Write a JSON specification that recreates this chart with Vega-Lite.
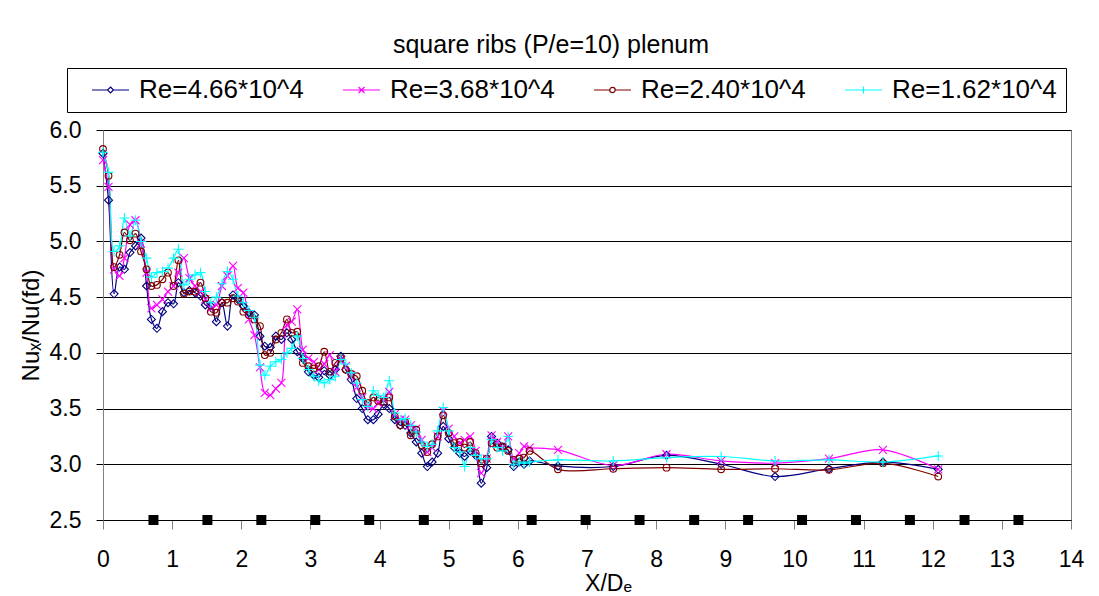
{
  "$schema": "https://vega.github.io/schema/vega-lite/v6.json",
  "autosize": "none",
  "width": 968,
  "height": 390,
  "padding": {"left": 103, "top": 130, "right": 28, "bottom": 76},
  "background": "white",
  "title": {"text": "square ribs (P/e=10) plenum", "font": "Liberation Sans", "fontSize": 25, "fontWeight": "normal", "color": "#000000", "anchor": "middle", "frame": "group", "offset": 10, "dx": -36},
  "config": {
    "font": "Liberation Sans",
    "view": {"stroke": "#808080", "strokeWidth": 1},
    "axis": {"labelColor": "#000000", "titleColor": "#000000", "titleFontWeight": "normal", "labelFont": "Liberation Sans", "titleFont": "Liberation Sans"}
  },
  "datasets": {
    "ribs": [
      {"x": 0.73, "v": 2.5}, {"x": 1.51, "v": 2.5}, {"x": 2.29, "v": 2.5}, {"x": 3.07, "v": 2.5},
      {"x": 3.85, "v": 2.5}, {"x": 4.64, "v": 2.5}, {"x": 5.42, "v": 2.5}, {"x": 6.2, "v": 2.5},
      {"x": 6.98, "v": 2.5}, {"x": 7.76, "v": 2.5}, {"x": 8.55, "v": 2.5}, {"x": 9.33, "v": 2.5},
      {"x": 10.11, "v": 2.5}, {"x": 10.89, "v": 2.5}, {"x": 11.67, "v": 2.5}, {"x": 12.46, "v": 2.5},
      {"x": 13.24, "v": 2.5}
    ],
    "nu": [
      {"x": 0.00, "A": 5.79, "B": 5.73, "C": 5.83, "D": 5.80},
      {"x": 0.08, "A": 5.37, "B": 5.49, "C": 5.59, "D": 5.62},
      {"x": 0.16, "A": 4.53, "B": 4.75, "C": 4.77, "D": 4.91},
      {"x": 0.24, "A": 4.77, "B": 4.69, "C": 4.88, "D": 4.96},
      {"x": 0.31, "A": 4.75, "B": 4.85, "C": 5.08, "D": 5.21},
      {"x": 0.39, "A": 4.90, "B": 5.15, "C": 5.01, "D": 5.05},
      {"x": 0.47, "A": 4.96, "B": 5.19, "C": 5.07, "D": 5.19},
      {"x": 0.55, "A": 5.03, "B": 4.98, "C": 4.91, "D": 5.00},
      {"x": 0.63, "A": 4.60, "B": 4.72, "C": 4.75, "D": 4.85},
      {"x": 0.70, "A": 4.30, "B": 4.40, "C": 4.60, "D": 4.68},
      {"x": 0.78, "A": 4.22, "B": 4.43, "C": 4.61, "D": 4.72},
      {"x": 0.86, "A": 4.37, "B": 4.48, "C": 4.66, "D": 4.73},
      {"x": 0.94, "A": 4.45, "B": 4.55, "C": 4.72, "D": 4.76},
      {"x": 1.02, "A": 4.44, "B": 4.60, "C": 4.60, "D": 4.85},
      {"x": 1.09, "A": 4.63, "B": 4.72, "C": 4.83, "D": 4.93},
      {"x": 1.17, "A": 4.54, "B": 4.85, "C": 4.53, "D": 4.61},
      {"x": 1.25, "A": 4.56, "B": 4.67, "C": 4.55, "D": 4.66},
      {"x": 1.33, "A": 4.54, "B": 4.60, "C": 4.55, "D": 4.70},
      {"x": 1.41, "A": 4.51, "B": 4.55, "C": 4.63, "D": 4.72},
      {"x": 1.48, "A": 4.43, "B": 4.48, "C": 4.49, "D": 4.55},
      {"x": 1.56, "A": 4.42, "B": 4.40, "C": 4.37, "D": 4.45},
      {"x": 1.64, "A": 4.28, "B": 4.43, "C": 4.36, "D": 4.50},
      {"x": 1.72, "A": 4.45, "B": 4.60, "C": 4.45, "D": 4.62},
      {"x": 1.80, "A": 4.24, "B": 4.69, "C": 4.45, "D": 4.73},
      {"x": 1.88, "A": 4.52, "B": 4.78, "C": 4.49, "D": 4.66},
      {"x": 1.95, "A": 4.48, "B": 4.58, "C": 4.46, "D": 4.51},
      {"x": 2.03, "A": 4.42, "B": 4.54, "C": 4.37, "D": 4.45},
      {"x": 2.11, "A": 4.36, "B": 4.30, "C": 4.34, "D": 4.38},
      {"x": 2.19, "A": 4.34, "B": 4.16, "C": 4.30, "D": 4.32},
      {"x": 2.27, "A": 4.15, "B": 3.87, "C": 4.24, "D": 3.89},
      {"x": 2.34, "A": 4.06, "B": 3.64, "C": 3.98, "D": 3.80},
      {"x": 2.42, "A": 4.05, "B": 3.62, "C": 4.00, "D": 3.88},
      {"x": 2.50, "A": 4.15, "B": 3.68, "C": 4.12, "D": 3.92},
      {"x": 2.58, "A": 4.12, "B": 3.73, "C": 4.18, "D": 3.94},
      {"x": 2.66, "A": 4.18, "B": 4.25, "C": 4.30, "D": 4.00},
      {"x": 2.73, "A": 4.12, "B": 4.28, "C": 4.18, "D": 4.04},
      {"x": 2.81, "A": 4.01, "B": 4.39, "C": 4.19, "D": 4.15},
      {"x": 2.89, "A": 3.95, "B": 4.03, "C": 3.91, "D": 3.95},
      {"x": 2.97, "A": 3.83, "B": 3.95, "C": 3.88, "D": 3.85},
      {"x": 3.05, "A": 3.80, "B": 3.92, "C": 3.86, "D": 3.79},
      {"x": 3.12, "A": 3.78, "B": 3.85, "C": 3.88, "D": 3.75},
      {"x": 3.20, "A": 3.84, "B": 3.90, "C": 4.01, "D": 3.73},
      {"x": 3.28, "A": 3.80, "B": 3.98, "C": 3.83, "D": 3.76},
      {"x": 3.36, "A": 3.85, "B": 3.83, "C": 3.91, "D": 3.79},
      {"x": 3.44, "A": 3.97, "B": 3.94, "C": 3.95, "D": 3.94},
      {"x": 3.51, "A": 3.85, "B": 3.88, "C": 3.85, "D": 3.90},
      {"x": 3.59, "A": 3.76, "B": 3.80, "C": 3.81, "D": 3.82},
      {"x": 3.67, "A": 3.59, "B": 3.69, "C": 3.79, "D": 3.73},
      {"x": 3.75, "A": 3.50, "B": 3.60, "C": 3.66, "D": 3.58},
      {"x": 3.83, "A": 3.40, "B": 3.52, "C": 3.55, "D": 3.52},
      {"x": 3.91, "A": 3.40, "B": 3.50, "C": 3.60, "D": 3.66},
      {"x": 3.98, "A": 3.45, "B": 3.55, "C": 3.57, "D": 3.62},
      {"x": 4.06, "A": 3.54, "B": 3.58, "C": 3.56, "D": 3.60},
      {"x": 4.14, "A": 3.50, "B": 3.65, "C": 3.60, "D": 3.75},
      {"x": 4.22, "A": 3.40, "B": 3.45, "C": 3.43, "D": 3.46},
      {"x": 4.30, "A": 3.35, "B": 3.40, "C": 3.35, "D": 3.40},
      {"x": 4.37, "A": 3.35, "B": 3.40, "C": 3.38, "D": 3.41},
      {"x": 4.45, "A": 3.28, "B": 3.35, "C": 3.26, "D": 3.35},
      {"x": 4.53, "A": 3.20, "B": 3.32, "C": 3.31, "D": 3.29},
      {"x": 4.61, "A": 3.10, "B": 3.22, "C": 3.17, "D": 3.20},
      {"x": 4.69, "A": 2.98, "B": 3.11, "C": 3.11, "D": 3.16},
      {"x": 4.76, "A": 3.02, "B": 3.15, "C": 3.18, "D": 3.18},
      {"x": 4.84, "A": 3.10, "B": 3.25, "C": 3.25, "D": 3.30},
      {"x": 4.92, "A": 3.34, "B": 3.48, "C": 3.44, "D": 3.51},
      {"x": 5.00, "A": 3.23, "B": 3.32, "C": 3.28, "D": 3.30},
      {"x": 5.08, "A": 3.15, "B": 3.25, "C": 3.19, "D": 3.15},
      {"x": 5.16, "A": 3.10, "B": 3.19, "C": 3.20, "D": 3.11},
      {"x": 5.23, "A": 3.07, "B": 3.22, "C": 3.15, "D": 2.98},
      {"x": 5.31, "A": 3.12, "B": 3.25, "C": 3.20, "D": 3.15},
      {"x": 5.39, "A": 3.08, "B": 3.12, "C": 3.10, "D": 3.08},
      {"x": 5.47, "A": 2.83, "B": 2.92, "C": 3.01, "D": 3.05},
      {"x": 5.55, "A": 2.97, "B": 3.05, "C": 3.05, "D": 3.05},
      {"x": 5.62, "A": 3.25, "B": 3.26, "C": 3.19, "D": 3.22},
      {"x": 5.70, "A": 3.19, "B": 3.20, "C": 3.15, "D": 3.15},
      {"x": 5.78, "A": 3.15, "B": 3.15, "C": 3.16, "D": 3.12},
      {"x": 5.86, "A": 3.13, "B": 3.25, "C": 3.12, "D": 3.25},
      {"x": 5.94, "A": 2.98, "B": 3.05, "C": 3.04, "D": 3.00},
      {"x": 6.02, "A": 3.02, "B": 3.10, "C": 3.05, "D": 3.02},
      {"x": 6.09, "A": 3.00, "B": 3.16, "C": 3.06, "D": 3.01},
      {"x": 6.17, "A": 3.03, "B": 3.15, "C": 3.12, "D": 3.02},
      {"x": 6.58, "A": 2.985, "B": 3.13, "C": 2.955, "D": 3.04},
      {"x": 7.38, "A": 2.98, "B": 2.99, "C": 2.96, "D": 3.03},
      {"x": 8.15, "A": 3.08, "B": 3.09, "C": 2.97, "D": 3.06},
      {"x": 8.94, "A": 3.00, "B": 3.03, "C": 2.955, "D": 3.07},
      {"x": 9.72, "A": 2.89, "B": 3.01, "C": 2.96, "D": 3.03},
      {"x": 10.50, "A": 2.96, "B": 3.05, "C": 2.95, "D": 3.04},
      {"x": 11.28, "A": 3.02, "B": 3.13, "C": 3.01, "D": 3.02},
      {"x": 12.08, "A": 2.955, "B": 2.955, "C": 2.89, "D": 3.075}
    ]
  },
  "encoding": {
    "x": {
      "field": "x", "type": "quantitative",
      "scale": {"domain": [0, 14], "nice": false, "zero": false},
      "axis": {
        "title": "X/Dₑ", "values": [0,1,2,3,4,5,6,7,8,9,10,11,12,13,14], "format": "d",
        "grid": false, "domainColor": "#000000", "domainWidth": 1,
        "tickColor": "#808080", "tickSize": 9, "labelPadding": 19, "labelFontSize": 23, "labelFlush": false,
        "titleFontSize": 23, "titleX": 505, "titleY": 70, "titleBaseline": "alphabetic", "titleAlign": "center"
      }
    },
    "y": {
      "field": "v", "type": "quantitative",
      "scale": {"domain": [2.5, 6], "nice": false, "zero": false},
      "axis": {
        "title": "Nuₓ/Nu(fd)", "values": [2.5,3,3.5,4,4.5,5,5.5,6], "format": ".1f",
        "grid": true, "gridColor": "#000000", "gridWidth": 1, "gridOpacity": 1,
        "domainColor": "#808080", "domainWidth": 1,
        "tickColor": "#000000", "tickSize": 7, "labelPadding": 15, "labelFontSize": 23, "labelFlush": false,
        "titleFontSize": 24, "titleX": -72, "titleY": 195, "titleAngle": -90, "titleBaseline": "middle", "titleAlign": "center"
      }
    }
  },
  "layer": [
    {
      "data": {"name": "nu"},
      "transform": [{"fold": ["A", "B", "C", "D"], "as": ["series", "v"]}],
      "layer": [
        {
          "mark": {"type": "line", "interpolate": "catmull-rom", "strokeWidth": 1.2},
          "encoding": {
            "color": {
              "field": "series", "type": "nominal",
              "scale": {"domain": ["A", "B", "C", "D"], "range": ["#000080", "#FF00FF", "#800000", "#00FFFF"]},
              "legend": {
                "orient": "none", "legendX": -36, "legendY": -62, "direction": "horizontal", "columns": 4,
                "title": null, "strokeColor": "#000000", "fillColor": "#ffffff", "padding": 9,
                "columnPadding": 23, "labelOffset": 37, "labelFontSize": 26, "labelFont": "Liberation Sans", "labelColor": "#000000",
                "labelLimit": 400,
                "symbolSize": 400, "symbolStrokeWidth": 1.2, "symbolType": "circle",
                "labelExpr": "datum.value == 'A' ? 'Re=4.66*10^4' : datum.value == 'B' ? 'Re=3.68*10^4' : datum.value == 'C' ? 'Re=2.40*10^4' : 'Re=1.62*10^4'",
                "encode": {
                  "symbols": {
                    "update": {
                      "shape": {"signal": "datum.value == 'A' ? 'M0.3,0L1.85,0M2.45,0L4,0M2.15,-0.3L2.45,0L2.15,0.3L1.85,0Z' : datum.value == 'B' ? 'M0.3,0L4,0M1.85,-0.3L2.45,0.3M1.85,0.3L2.45,-0.3' : datum.value == 'C' ? 'M0.3,0L1.88,0M2.42,0L4,0M2.42,0A0.27,0.27 0 1,1 1.88,0A0.27,0.27 0 1,1 2.42,0' : 'M0.3,0L4,0M2.15,-0.35L2.15,0.35'"},
                      "size": {"value": 400},
                      "fill": {"value": "transparent"},
                      "stroke": {"signal": "scale('color', datum.value)"},
                      "strokeWidth": {"value": 1.2},
                      "opacity": {"value": 1}
                    }
                  }
                }
              }
            }
          }
        },
        {
          "transform": [{"filter": "datum.series == 'A'"}],
          "mark": {"type": "point", "shape": "diamond", "filled": false, "color": "#000080", "size": 64, "strokeWidth": 1.1, "opacity": 1}
        },
        {
          "transform": [{"filter": "datum.series == 'B'"}],
          "mark": {"type": "point", "shape": "M-1,-1L1,1M-1,1L1,-1", "filled": false, "color": "#FF00FF", "size": 64, "strokeWidth": 1.1, "opacity": 1}
        },
        {
          "transform": [{"filter": "datum.series == 'C'"}],
          "mark": {"type": "point", "shape": "circle", "filled": false, "color": "#800000", "size": 45, "strokeWidth": 1.1, "opacity": 1}
        },
        {
          "transform": [{"filter": "datum.series == 'D'"}],
          "mark": {"type": "point", "shape": "M-1,0L1,0M0,-1L0,1", "filled": false, "color": "#00FFFF", "size": 100, "strokeWidth": 1.1, "opacity": 1}
        }
      ]
    },
    {
      "data": {"name": "ribs"},
      "mark": {"type": "square", "filled": true, "color": "#000000", "size": 100, "opacity": 1, "clip": false}
    }
  ]
}
